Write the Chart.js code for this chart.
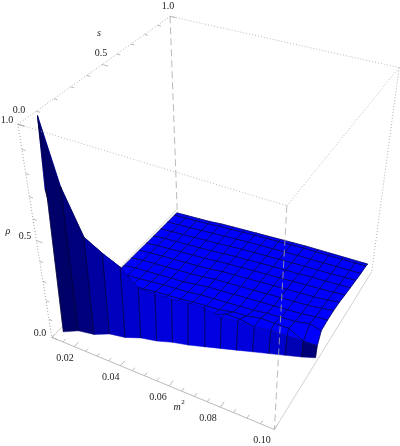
<!DOCTYPE html>
<html><head><meta charset="utf-8">
<style>html,body{margin:0;padding:0;background:#fff}canvas{display:block}</style>
<script src="https://cdn.jsdelivr.net/npm/chart.js@4"></script></head>
<body><canvas id="c" width="400" height="446"></canvas>
<script>
// ---- data ----
const mValues=[.012,.0175,.023,.0285,.034,.0395,.045,.0505,.056,.0615,.067,.0725,.078,.0835,.089,.0945,.099];
const sLevels=[.0625,.125,.1875,.25,.3125,.375,.4375,.5,.5625,.625,.6875,.75,.8125,.875,.9375,.96];
const sThreshold=[.048,.07,.092,.114,.136,.158,.18,.202,.224,.246,.268,.29,.312,.334,.356,.378,.4];
const ridgeGap=[.03,.008,.008,.008,.008,.008,.008,.008,.008,.008,.008,.008,.008,.008,.008,.008,.008];
const edge=[0,.015,.004,.016,.005,.012,.004,.006,0,0,0,0,0,0,0,0,0];
const ridge=[1,.72,.5,.43,.37,.27,.25,.23,.22,.2,.16,.15,.13,.12,.1,.08,.06];
const _=null;
const rho=[
[.7,.25,.1,.06,.04,.03,.025,.02,.019,.018,.016,.015,.014,.013,.012,.012],
[_,.3,.13,.075,.05,.04,.035,.03,.028,.026,.024,.022,.02,.018,.017,.016],
[_,.33,.15,.09,.06,.05,.04,.035,.033,.031,.029,.027,.025,.023,.021,.02],
[_,.36,.17,.1,.07,.055,.048,.04,.038,.036,.034,.032,.03,.028,.026,.024],
[_,_,.2,.11,.08,.065,.055,.045,.043,.041,.039,.037,.035,.034,.033,.032],
[_,_,.2,.12,.09,.07,.06,.05,.048,.046,.044,.042,.04,.039,.037,.036],
[_,_,.22,.13,.095,.075,.065,.06,.055,.053,.051,.049,.047,.045,.042,.04],
[_,_,_,.18,.11,.085,.075,.07,.065,.062,.058,.056,.053,.05,.047,.044],
[_,_,_,.18,.115,.09,.08,.075,.07,.067,.063,.06,.057,.054,.051,.048],
[_,_,_,.18,.12,.095,.085,.08,.075,.072,.068,.065,.061,.058,.055,.052],
[_,_,_,_,.15,.11,.09,.085,.08,.077,.073,.07,.066,.062,.059,.056],
[_,_,_,_,.15,.115,.095,.09,.085,.082,.078,.074,.07,.066,.063,.06],
[_,_,_,_,_,.13,.105,.095,.09,.087,.083,.078,.073,.068,.065,.062],
[_,_,_,_,_,.13,.11,.1,.095,.092,.088,.083,.077,.071,.067,.064],
[_,_,_,_,_,.13,.115,.105,.1,.097,.093,.087,.08,.074,.07,.066],
[_,_,_,_,_,_,.13,.115,.11,.105,.098,.091,.084,.077,.072,.068],
[_,_,_,_,_,_,.115,.12,.12,.115,.105,.096,.088,.08,.075,.07]];
const mLabels=["0.02","0.04","0.06","0.08","0.10"];
const sLabels=["0.0","0.5","1.0"];
const rhoLabels=["0.0","0.5","1.0"];
const wallBlue=[105,125,160,190,205,215,220,225,225,225,225,220,215,205,180,120];

// ---- axes ranges and camera ----
const mMin=.01,mMax=.1,sMin=0,sMax=1;
const corners=[[0,0,1,18,124],[0,1,1,170,16],[1,1,1,399,68],[1,0,1,287,206],[0,0,0,52,337],[1,0,0,274,430],[1,1,0,372,271],[0,1,0,177,210]];
function fit(){const A=[],b=[];for(const [X,Y,Z,u0,v0] of corners){const u=u0/400,v=v0/400;
 A.push([X,Y,Z,1,0,0,0,0,-u*X,-u*Y,-u*Z]);b.push(u);A.push([0,0,0,0,X,Y,Z,1,-v*X,-v*Y,-v*Z]);b.push(v);}
 const n=11,M=[];for(let i=0;i<n;i++){M.push(new Array(n+1).fill(0));for(let j=0;j<n;j++)for(let r=0;r<A.length;r++)M[i][j]+=A[r][i]*A[r][j];for(let r=0;r<A.length;r++)M[i][n]+=A[r][i]*b[r];}
 for(let i=0;i<n;i++){let p=i;for(let r=i+1;r<n;r++)if(Math.abs(M[r][i])>Math.abs(M[p][i]))p=r;[M[i],M[p]]=[M[p],M[i]];for(let r=0;r<n;r++){if(r===i)continue;const f=M[r][i]/M[i][i];for(let c=i;c<=n;c++)M[r][c]-=f*M[i][c];}}
 return M.map((r,i)=>r[n]/r[i]);}
const P=fit();
const nx=m=>(m-mMin)/(mMax-mMin),ny=s=>(s-sMin)/(sMax-sMin);
const W=(X,Y,Z)=>P[8]*X+P[9]*Y+P[10]*Z+1;
function proj(X,Y,Z){const w=W(X,Y,Z);return {x:400*(P[0]*X+P[1]*Y+P[2]*Z+P[3])/w,y:400*(P[4]*X+P[5]*Y+P[6]*Z+P[7])/w};}

// ---- surface ----
function vertex(i,c){ // c=0 threshold, c=1 ridge, c>=2 s levels
 const th=sThreshold[i],X=nx(mValues[i]),rs=th+ridgeGap[i];
 if(c===0)return [X,ny(th),edge[i]];
 if(c===1)return [X,ny(rs),ridge[i]];
 const v=rho[i][c-2];
 if(v===null)return [X,ny(rs),ridge[i]];
 return [X,ny(sLevels[c-2]),v];}
function shade(a,b,c,d){
 const u=[c[0]-a[0],c[1]-a[1],c[2]-a[2]],v=[d[0]-b[0],d[1]-b[1],d[2]-b[2]];
 let n=[u[1]*v[2]-u[2]*v[1],u[2]*v[0]-u[0]*v[2],u[0]*v[1]-u[1]*v[0]];
 const l=Math.hypot(...n)||1;n=n.map(q=>q/l);if(n[2]<0)n=n.map(q=>-q);
 const dot=-.28*n[0]-.45*n[1]+.85*n[2];
 const t=Math.max(0,Math.min(1,dot/.42));
 return `rgb(0,0,${Math.round(105+150*t)})`;}
const same=(p,q)=>p[0]===q[0]&&p[1]===q[1]&&p[2]===q[2];
const cells=[]; // painted far to near: low m first, high s first
for(let i=0;i<mValues.length-1;i++)for(let c=sLevels.length;c>=0;c--){
 const a=vertex(i,c),b=vertex(i+1,c),d=vertex(i,c+1),e=vertex(i+1,c+1);
 if(same(a,d)&&same(b,e))continue;
 const col=c===0?`rgb(0,0,${wallBlue[i]})`:shade(a,b,e,d);
 const mesh=[];
 if(!same(a,d))mesh.push([a,d].map(q=>proj(...q)));
 if(!same(b,e))mesh.push([b,e].map(q=>proj(...q)));
 if(c>=2){mesh.push([a,b].map(q=>proj(...q)));mesh.push([d,e].map(q=>proj(...q)));}
 else if(c===1){mesh.push([d,e].map(q=>proj(...q)));}
 cells.push({col,pts:[a,b,e,d,a].map(q=>proj(...q)),mesh});
}
cells.reverse(); // index 0 of the dataset list is painted last

// ---- helpers ----
const seg=(pts,color,dash,w=.8)=>({type:'line',data:pts,borderColor:color,borderWidth:w,borderDash:dash,pointRadius:0,fill:false,tension:0,clip:false});
const V=(X,Y,Z)=>proj(X,Y,Z);
const dot=[1,2],dash=[7,4],grey='#a8a8a8';
const front=[],back=[];
front.push(seg([V(1,0,1),V(1,0,0)],grey,dash,.8));
front.push(seg([V(0,0,1),V(1,0,1)],grey,dot));
front.push(seg([V(0,0,0),V(1,0,0)],grey,[]));
front.push(seg([V(1,0,0),V(1,1,0)],'#c4c4c4',[]));
front.push(seg([V(0,0,1),V(0,0,0)],'#888',dot));
back.push(seg([V(0,1,1),V(0,1,0)],grey,dash,.8));
back.push(seg([V(0,0,1),V(0,1,1)],'#999',dot));
back.push(seg([V(0,1,1),V(1,1,1)],grey,dot));
back.push(seg([V(1,1,1),V(1,0,1)],grey,dot));
back.push(seg([V(1,1,1),V(1,1,0)],'#999',dot));
back.push(seg([V(0,0,0),V(0,1,0)],'#c4c4c4',[]));
for(let k=0;k<=18;k++){const m=.01+k*.005,maj=k%4===2;front.push(seg([V(nx(m),0,0),V(nx(m),maj?.03:.018,0)],grey,[]));}
for(let k=0;k<=10;k++){const s=k/10,maj=k%5===0;front.push(seg([V(0,ny(s),1),V(maj?.028:.016,ny(s),1)],grey,[]));}
for(let k=0;k<=10;k++){const r=k/10,maj=k%5===0;front.push(seg([V(0,0,r),V(maj?.028:.016,0,r)],grey,[]));}

const cellSets=[];
for(const c of cells){
 for(const e of c.mesh)cellSets.push(seg(e,'rgb(0,0,40)',[],.6));
 cellSets.push({type:'line',data:c.pts,backgroundColor:c.col,borderColor:c.col,borderWidth:.5,pointRadius:0,fill:'shape',tension:0,clip:false});
}

// ---- texts ----
const mSpots=[[65,358],[110.7,377],[158,397],[208,418],[262,440]];
const sSpots=[[19,110],[101,53],[168,6]];
const rhoSpots=[[40,333],[25,236],[7,120]];
const titles=[["s",99,33,"italic"],["ρ",8,231,"italic"]];
const textPlugin={id:'texts',afterDatasetsDraw(ch){const g=ch.ctx,xs=ch.scales.x,ys=ch.scales.y;g.save();g.fillStyle='#222';g.textAlign='center';g.textBaseline='middle';
 const put=(t,x,y,st='',size=10)=>{g.font=`${st} ${size}px "Liberation Serif"`;g.fillText(t,xs.getPixelForValue(x),ys.getPixelForValue(y));};
 mLabels.forEach((t,i)=>put(t,...mSpots[i]));sLabels.forEach((t,i)=>put(t,...sSpots[i]));rhoLabels.forEach((t,i)=>put(t,...rhoSpots[i]));
 titles.forEach(t=>put(t[0],t[1],t[2],t[3]));put("m",177,407,"italic");put("2",183,402,"",7);g.restore();}};

new Chart(document.getElementById('c'),{type:'scatter',
 data:{datasets:[...front,...cellSets,...back]},
 options:{responsive:false,animation:false,events:[],layout:{padding:0},
  plugins:{legend:{display:false},tooltip:{enabled:false},title:{display:false}},
  scales:{x:{type:'linear',min:0,max:400,display:false},y:{type:'linear',min:0,max:446,reverse:true,display:false}}},
 plugins:[textPlugin]});
</script></body></html>
